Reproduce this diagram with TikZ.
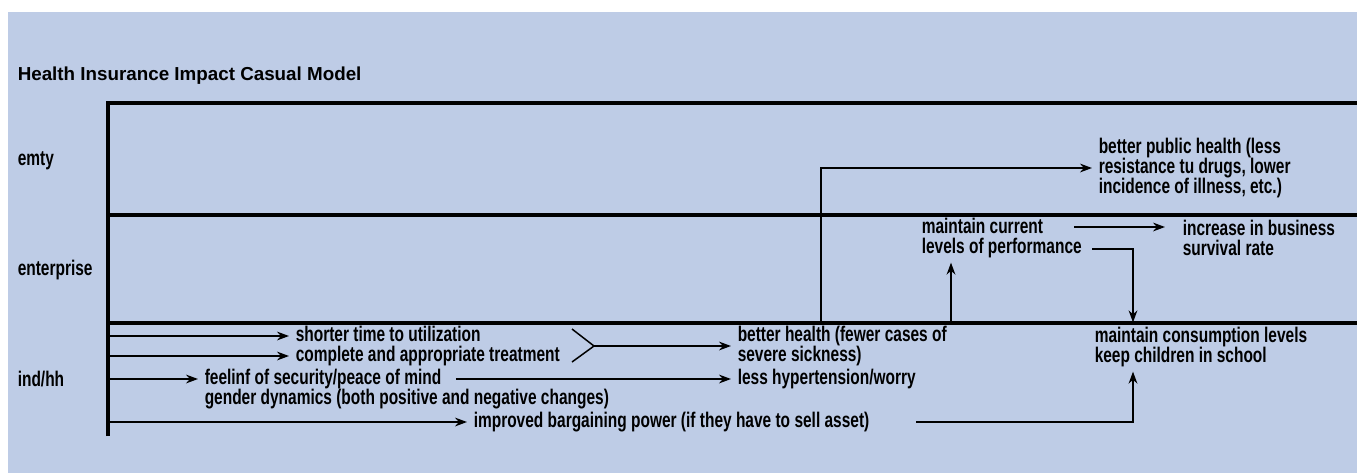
\documentclass[tikz,border=0pt]{standalone}
\usepackage{fontspec}
\usepackage{tikz}
\usetikzlibrary{arrows.meta,calc}
\setmainfont{Liberation Sans}
\newfontfamily\condfont{Liberation Sans}[FakeStretch=0.73]
\definecolor{bgblue}{RGB}{190,204,230}

\begin{document}
\begin{tikzpicture}[x=0.5pt,y=-0.5pt,->,>={Stealth[length=6pt,width=4.4pt]},line width=0.75pt]
   \useasboundingbox (0,0) rectangle (1357,473);
   \fill[bgblue] (8,12) rectangle (1357,473);
   \tikzstyle{txt}=[anchor=west, inner xsep=3pt, inner ysep=1pt, align=left, font=\condfont\bfseries\fontsize{10.6}{10}\selectfont]
   \tikzstyle{oneline}=[txt, align=none, inner ysep=0pt, text height=7.4pt, text depth=2pt]
   \tikzstyle{frame}=[-, line width=1.6pt]
   \node[oneline, font=\bfseries\fontsize{9.4}{10}\selectfont] (title) at (11,75) {Health Insurance Impact Casual Model};
   % row labels
   \node[oneline] (emty) at (11,160) {emty};
   \node[oneline] (enterprise) at (11,270) {enterprise};
   \node[oneline] (indhh) at (11,381) {ind/hh};
   % frame
   \coordinate (axtop) at (108,103);
   \coordinate (axbot) at (108,436);
   \draw[frame] (axbot) -- (axtop) -- (1357,103);
   \draw[frame] (108,215) -- (1357,215);
   \draw[frame] (108,323) -- (1357,323);
   % outcomes
   \node[oneline] (short) at (289,336) {shorter time to utilization};
   \node[oneline] (treat) at (289,356) {complete and appropriate treatment};
   \node[oneline] (secure) at (198,379) {feelinf of security/peace of mind};
   \node[oneline] (gender) at (198,399) {gender dynamics (both positive and negative changes)};
   \node[oneline] (bargain) at (467,422) {improved bargaining power (if they have to sell asset)};
   \node[txt] (health) at (731,346) {better health (fewer cases of\\severe sickness)};
   \node[oneline] (worry) at (731,379) {less hypertension/worry};
   \node[txt] (consume) at (1088,347) {maintain consumption levels\\keep children in school};
   \node[txt] (perform) at (915,238) {maintain current\\levels of performance};
   \node[txt] (business) at (1176,238) {increase in business\\survival rate};
   \node[txt] (public) at (1092,168) {better public health (less\\resistance tu drugs, lower\\incidence of illness, etc.)};
   % links
   \foreach \n in {short,treat,secure,bargain}
      \draw (\n.west -| axtop) -- (\n.west);
   \coordinate (join) at (594,346);
   \draw[-] (join) -- ++(-22,-17);
   \draw[-] (join) -- ++(-22,16);
   \draw (join) -- (health.west);
   \draw ([xshift=4pt]secure.east) -- (worry.west);
   \coordinate (hb) at (821,323);
   \draw (hb) |- (public.west);
   \coordinate (pb) at (951,323);
   \draw (pb) -- ([yshift=-1pt]pb |- perform.south);
   \draw ([yshift=5.5pt,xshift=-7pt]perform.east) -- ([yshift=5.5pt,xshift=-5.5pt]business.west);
   \coordinate (drop) at (1133,0);
   \draw ([yshift=-5.5pt,xshift=2pt]perform.east) -| ([yshift=1pt]drop |- consume.north);
   \draw ([xshift=20pt]bargain.east) -| ([yshift=-1pt]drop |- consume.south);
\end{tikzpicture}
\end{document}
